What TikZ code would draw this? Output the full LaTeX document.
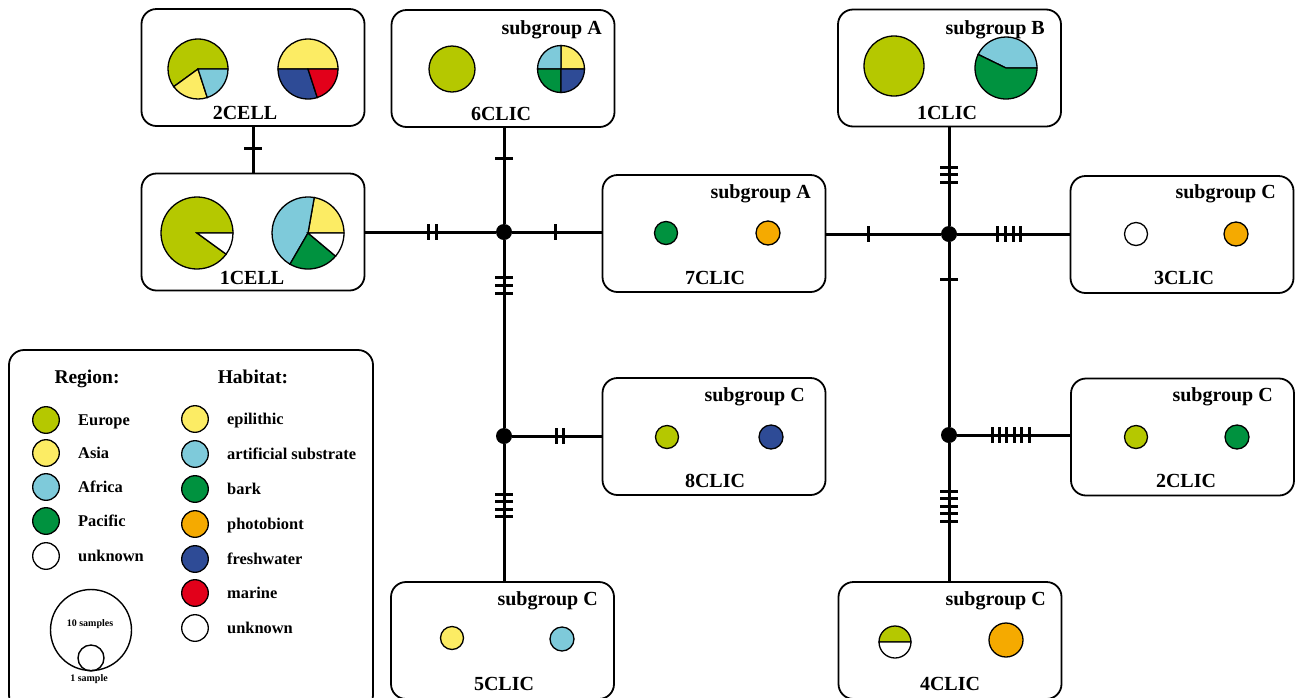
\documentclass[tikz,border=0pt]{standalone}
\usepackage{fontspec}
\setmainfont{Liberation Serif}
\definecolor{eur}{RGB}{181,200,0}
\definecolor{asi}{RGB}{252,236,100}
\definecolor{afr}{RGB}{126,202,218}
\definecolor{pac}{RGB}{0,146,63}
\definecolor{pho}{RGB}{245,170,0}
\definecolor{fre}{RGB}{46,75,150}
\definecolor{mar}{RGB}{226,0,26}
\newcommand\pslice[6]{\filldraw[fill=#6,draw=black,line width=1.3pt] (#1,-#2) -- ++(#4:#3) arc[start angle=#4,end angle=#5,radius=#3] -- cycle;}
\newcommand\cdisc[4]{\filldraw[fill=#4,draw=black,line width=1.3pt] (#1,-#2) circle[radius=#3];}
\newcommand\vtk[2]{\draw[tick] (#1,-#2+8) -- (#1,-#2-8);}
\newcommand\htk[2]{\draw[tick] (#1-9,-#2) -- (#1+9,-#2);}
\begin{document}
\begin{tikzpicture}[x=1pt,y=1pt,
  box/.style={draw,line width=1.8pt,rounded corners=15pt,minimum width=223pt,minimum height=117pt,inner sep=0pt},
  junc/.style={circle,fill=black,inner sep=0pt,minimum size=16pt},
  edge/.style={line width=3pt},
  tick/.style={line width=3pt},
  lab/.style={font=\fontsize{20}{24}\selectfont\bfseries,inner sep=0pt,anchor=base},
  sub/.style={font=\fontsize{20}{24}\selectfont\bfseries,inner sep=0pt,anchor=base east},
  leg/.style={font=\fontsize{16.4}{19}\selectfont\bfseries,inner sep=0pt,anchor=base west},
  head/.style={font=\fontsize{19.5}{23}\selectfont\bfseries,inner sep=0pt,anchor=base},
  small/.style={font=\fontsize{10}{12}\selectfont\bfseries,inner sep=0pt,anchor=base}]
\useasboundingbox (0,0) rectangle (1295,-697);
\fill[white] (0,0) rectangle (1295,-697);
% boxes
\node[box] (c2cell) at (253,-67.5) {};
\node[box] (c1cell) at (253,-232) {};
\node[box] (c6clic) at (503,-68.5) {};
\node[box] (c1clic) at (949.5,-68) {};
\node[box] (c7clic) at (714,-233.5) {};
\node[box] (c3clic) at (1182,-234.5) {};
\node[box] (c8clic) at (714,-436.5) {};
\node[box] (c2clic) at (1182.5,-437) {};
\node[box] (c5clic) at (502.5,-640.5) {};
\node[box] (c4clic) at (950,-640.5) {};
\node[draw,line width=1.8pt,rounded corners=15pt,minimum width=364pt,minimum height=360pt,inner sep=0pt] (legend) at (191,-530) {};
% junctions
\node[junc] (j1) at (504,-232) {};
\node[junc] (j2) at (949,-234) {};
\node[junc] (j3) at (504,-436) {};
\node[junc] (j4) at (949,-435) {};
% edges
\draw[edge] (c2cell.south) -- (c1cell.north);
\draw[edge] (c1cell.east |- j1) -- (j1);
\draw[edge] (j1) -- (j1 |- c6clic.south);
\draw[edge] (j1) -- (j1 -| c7clic.west);
\draw[edge] (j1) -- (j3);
\draw[edge] (j3) -- (j3 -| c8clic.west);
\draw[edge] (j3) -- (j3 |- c5clic.north);
\draw[edge] (c7clic.east |- j2) -- (j2);
\draw[edge] (j2) -- (j2 |- c1clic.south);
\draw[edge] (j2) -- (j2 -| c3clic.west);
\draw[edge] (j2) -- (j4);
\draw[edge] (j4) -- (j4 -| c2clic.west);
\draw[edge] (j4) -- (j4 |- c4clic.north);
% ticks
\htk{253}{148}
\vtk{428}{232}\vtk{436}{232}
\htk{504}{158}
\vtk{555}{232}
\htk{504}{277}\htk{504}{285}\htk{504}{293}
\vtk{556}{436}\vtk{563}{436}
\htk{504}{494}\htk{504}{501.6}\htk{504}{509.2}\htk{504}{516.8}
\vtk{868}{234}
\htk{949}{167}\htk{949}{174.5}\htk{949}{182}
\vtk{997}{234}\vtk{1005}{234}\vtk{1013}{234}\vtk{1020}{234}
\htk{949}{279}
\vtk{992}{435}\vtk{999.4}{435}\vtk{1006.8}{435}\vtk{1014.2}{435}\vtk{1021.6}{435}\vtk{1029}{435}
\htk{949}{491}\htk{949}{498.6}\htk{949}{506.2}\htk{949}{513.8}\htk{949}{521.4}
% 2CELL pies
\pslice{198}{69}{30}{0}{216}{eur}
\pslice{198}{69}{30}{216}{288}{asi}
\pslice{198}{69}{30}{288}{360}{afr}
\pslice{308}{69}{30}{0}{180}{asi}
\pslice{308}{69}{30}{180}{288}{fre}
\pslice{308}{69}{30}{288}{360}{mar}
% 1CELL pies
\pslice{197}{233}{36}{0}{324}{eur}
\pslice{197}{233}{36}{324}{360}{white}
\pslice{308}{233}{36}{0}{80}{asi}
\pslice{308}{233}{36}{80}{240}{afr}
\pslice{308}{233}{36}{240}{320}{pac}
\pslice{308}{233}{36}{320}{360}{white}
% 6CLIC
\cdisc{452}{69}{23}{eur}
\pslice{561}{69}{23.5}{0}{90}{asi}
\pslice{561}{69}{23.5}{90}{180}{afr}
\pslice{561}{69}{23.5}{180}{270}{pac}
\pslice{561}{69}{23.5}{270}{360}{fre}
% 1CLIC
\cdisc{894}{66}{30}{eur}
\pslice{1006}{68}{31}{0}{154}{afr}
\pslice{1006}{68}{31}{154}{360}{pac}
% small ones
\cdisc{666}{233}{11.5}{pac}\cdisc{768}{233}{12}{pho}
\cdisc{1136}{234}{11.5}{white}\cdisc{1236}{234}{12}{pho}
\cdisc{667}{437}{11.5}{eur}\cdisc{771}{437}{12}{fre}
\cdisc{1136}{437}{11.5}{eur}\cdisc{1237}{437}{12}{pac}
\cdisc{452}{638}{11.5}{asi}\cdisc{562}{639}{12}{afr}
\pslice{895}{642}{16}{0}{180}{eur}
\pslice{895}{642}{16}{180}{360}{white}
\cdisc{1006}{640}{17}{pho}
% labels
\node[lab] (t2cell) at (245,-119) {2CELL};
\node[lab] (t1cell) at (252,-284) {1CELL};
\node[lab] (t6clic) at (501,-120) {6CLIC};
\node[sub] (s6clic) at (602,-34.5) {subgroup A};
\node[lab] (t1clic) at (947,-119) {1CLIC};
\node[sub] (s1clic) at (1045,-34.5) {subgroup B};
\node[lab] (t7clic) at (715,-284) {7CLIC};
\node[sub] (s7clic) at (811,-198.5) {subgroup A};
\node[lab] (t3clic) at (1184,-284) {3CLIC};
\node[sub] (s3clic) at (1276,-198.5) {subgroup C};
\node[lab] (t8clic) at (715,-487) {8CLIC};
\node[sub] (s8clic) at (805,-401.5) {subgroup C};
\node[lab] (t2clic) at (1186,-487) {2CLIC};
\node[sub] (s2clic) at (1273,-401.5) {subgroup C};
\node[lab] (t5clic) at (504,-690) {5CLIC};
\node[sub] (s5clic) at (598,-605.5) {subgroup C};
\node[lab] (t4clic) at (950,-690) {4CLIC};
\node[sub] (s4clic) at (1046,-605.5) {subgroup C};
% legend
\node[head] (hreg) at (87,-383) {Region:};
\node[head] (hhab) at (253,-383) {Habitat:};
\cdisc{46}{420}{13.3}{eur}\node[leg] (le1) at (78,-425.5) {Europe};
\cdisc{46}{453}{13.3}{asi}\node[leg] (le2) at (78,-458.5) {Asia};
\cdisc{46}{487}{13.3}{afr}\node[leg] (le3) at (78,-492.5) {Africa};
\cdisc{46}{521}{13.3}{pac}\node[leg] (le4) at (78,-526.5) {Pacific};
\cdisc{46}{556}{13.3}{white}\node[leg] (le5) at (78,-561.5) {unknown};
\cdisc{195}{419}{13.3}{asi}\node[leg] (lh1) at (227,-424.5) {epilithic};
\cdisc{195}{454}{13.3}{afr}\node[leg] (lh2) at (227,-459.5) {artificial substrate};
\cdisc{195}{489}{13.3}{pac}\node[leg] (lh3) at (227,-494.5) {bark};
\cdisc{195}{524}{13.3}{pho}\node[leg] (lh4) at (227,-529.5) {photobiont};
\cdisc{195}{559}{13.3}{fre}\node[leg] (lh5) at (227,-564.5) {freshwater};
\cdisc{195}{593}{13.3}{mar}\node[leg] (lh6) at (227,-598.5) {marine};
\cdisc{195}{628}{13.3}{white}\node[leg] (lh7) at (227,-633.5) {unknown};
\draw[line width=1.4pt] (91,-630) circle[radius=40.5];
\draw[line width=1.4pt] (91,-658) circle[radius=13];
\node[small] (s10) at (90,-626.5) {10 samples};
\node[small] (s1) at (89,-681.5) {1 sample};
\end{tikzpicture}
\end{document}
